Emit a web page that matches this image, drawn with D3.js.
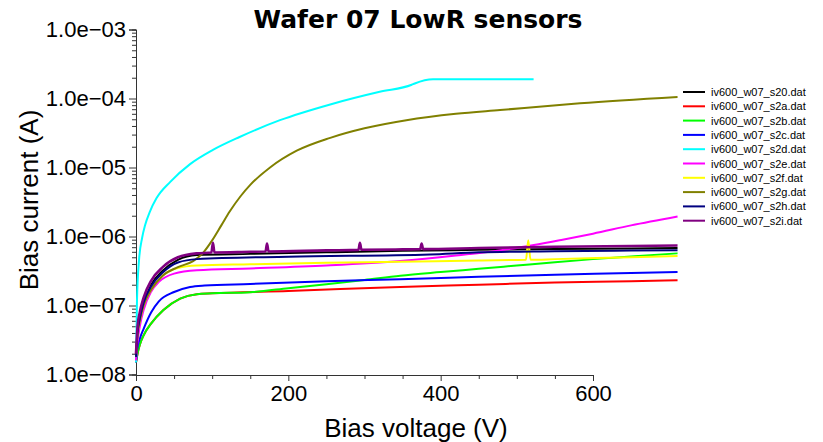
<!DOCTYPE html>
<html>
<head>
<meta charset="utf-8">
<script src="https://cdn.jsdelivr.net/npm/d3@7"></script>
<style>
  body { margin: 0; background: #fff; }
  svg { display: block; }
  .tick text { font-family: "Liberation Sans", Arial, sans-serif; }
</style>
</head>
<body>
<div id="chart"></div>
<script>
// IV scans, wafer 07 LowR sensors (voltage in V, current in A)
var files = ["iv600_w07_s20.dat", "iv600_w07_s2a.dat", "iv600_w07_s2b.dat", "iv600_w07_s2c.dat",
  "iv600_w07_s2d.dat", "iv600_w07_s2e.dat", "iv600_w07_s2f.dat", "iv600_w07_s2g.dat",
  "iv600_w07_s2h.dat", "iv600_w07_s2i.dat"];
var colors = ["#000000", "#ff0000", "#00ff00", "#0000ff", "#00ffff", "#ff00ff", "#ffff00",
  "#808000", "#000080", "#800080"];

var v_s20 = [0, 2, 5, 10, 20, 35, 55, 80, 150, 250, 350, 450, 550, 650, 711];
var i_s20 = [2.0e-8, 4.2e-8, 6.0e-8, 1.05e-7, 2.0e-7, 3.2e-7, 4.6e-7, 5.4e-7, 5.6e-7, 5.9e-7, 6.2e-7, 6.4e-7, 6.6e-7, 6.7e-7, 6.8e-7];

var v_s2a = [0, 2, 5, 10, 20, 36, 58, 80, 100, 200, 347, 450, 550, 650, 711];
var i_s2a = [1.5e-8, 2.0e-8, 2.7e-8, 3.7e-8, 5.5e-8, 8.6e-8, 1.26e-7, 1.46e-7, 1.5e-7, 1.62e-7, 1.86e-7, 2.0e-7, 2.15e-7, 2.25e-7, 2.33e-7];

var v_s2b = [0, 2, 5, 10, 20, 36, 58, 80, 100, 150, 200, 250, 300, 347, 400, 450, 500, 550, 600, 650, 711];
var i_s2b = [1.5e-8, 2.0e-8, 2.7e-8, 3.7e-8, 5.5e-8, 8.6e-8, 1.26e-7, 1.46e-7, 1.5e-7, 1.56e-7, 1.78e-7, 2.04e-7, 2.35e-7, 2.7e-7, 3.05e-7, 3.4e-7, 3.8e-7, 4.25e-7, 4.7e-7, 5.15e-7, 5.7e-7];

var v_s2c = [0, 2, 5, 10, 20, 30, 50, 71, 90, 150, 250, 347, 450, 550, 650, 711];
var i_s2c = [1.5e-8, 2.5e-8, 3.3e-8, 4.6e-8, 8.0e-8, 1.15e-7, 1.57e-7, 1.86e-7, 1.95e-7, 2.05e-7, 2.25e-7, 2.4e-7, 2.6e-7, 2.8e-7, 2.95e-7, 3.07e-7];

var v_s2d = [0, 1.3, 4, 8, 12, 18, 27, 45, 71, 101, 136, 189, 255, 320, 362, 366, 390, 450, 522];
var i_s2d = [1.5e-8, 1.2e-7, 4.6e-7, 9.5e-7, 1.47e-6, 2.26e-6, 3.6e-6, 6.2e-6, 1.12e-5, 1.8e-5, 2.77e-5, 4.85e-5, 8.2e-5, 1.25e-4, 1.58e-4, 1.65e-4, 1.9e-4, 1.9e-4, 1.9e-4];

var v_s2e = [0, 2, 5, 10, 20, 30, 50, 80, 150, 250, 347, 420, 495, 560, 600, 650, 711];
var i_s2e = [1.6e-8, 3.0e-8, 5.0e-8, 8.6e-8, 1.6e-7, 2.2e-7, 2.9e-7, 3.25e-7, 3.45e-7, 3.8e-7, 4.4e-7, 5.3e-7, 6.7e-7, 9.0e-7, 1.1e-6, 1.45e-6, 1.95e-6];

var v_s2f = [0, 2, 5, 10, 20, 35, 55, 80, 150, 250, 347, 450, 512, 515, 518, 550, 650, 711];
var i_s2f = [1.8e-8, 3.8e-8, 6.0e-8, 1.0e-7, 1.7e-7, 2.7e-7, 3.5e-7, 3.8e-7, 3.95e-7, 4.15e-7, 4.3e-7, 4.5e-7, 4.6e-7, 8.8e-7, 4.6e-7, 4.7e-7, 5.0e-7, 5.2e-7];

var v_s2g = [0, 2, 5, 10, 20, 35, 55, 75, 88, 100, 112, 123, 137, 150, 176, 211, 255, 300, 355, 420, 478, 583, 711];
var i_s2g = [1.8e-8, 3.8e-8, 6.0e-8, 1.0e-7, 1.7e-7, 2.7e-7, 3.6e-7, 4.4e-7, 5.8e-7, 8.8e-7, 1.45e-6, 2.3e-6, 3.8e-6, 5.6e-6, 1.0e-5, 1.75e-5, 2.69e-5, 3.7e-5, 4.85e-5, 6.0e-5, 6.8e-5, 8.5e-5, 1.05e-4];

var v_s2h = [0, 2, 5, 10, 20, 35, 55, 80, 200, 386, 450, 550, 650, 711];
var i_s2h = [1.8e-8, 4.0e-8, 6.5e-8, 1.1e-7, 1.9e-7, 3.0e-7, 4.2e-7, 4.7e-7, 5.1e-7, 5.5e-7, 5.9e-7, 6.1e-7, 6.25e-7, 6.3e-7];

var v_s2i = [0, 2, 5, 10, 20, 35, 55, 80, 99, 101, 103, 150, 170, 172, 174, 250, 292, 294, 296, 350, 373, 375, 377, 450, 550, 650, 711];
var i_s2i = [2.0e-8, 5.0e-8, 8.0e-8, 1.3e-7, 2.3e-7, 3.6e-7, 5.0e-7, 5.7e-7, 5.85e-7, 8.1e-7, 5.87e-7, 6.0e-7, 6.05e-7, 7.9e-7, 6.06e-7, 6.3e-7, 6.4e-7, 8.1e-7, 6.42e-7, 6.5e-7, 6.55e-7, 7.9e-7, 6.57e-7, 6.8e-7, 7.1e-7, 7.3e-7, 7.4e-7];

var voltages = [v_s20, v_s2a, v_s2b, v_s2c, v_s2d, v_s2e, v_s2f, v_s2g, v_s2h, v_s2i];
var currents = [i_s20, i_s2a, i_s2b, i_s2c, i_s2d, i_s2e, i_s2f, i_s2g, i_s2h, i_s2i];

var xMajor = [0, 200, 400, 600];
var xMinor = [50, 100, 150, 250, 300, 350, 450, 500, 550];
var yMajor = [1e-8, 1e-7, 1e-6, 1e-5, 1e-4, 1e-3];

var width = 823, height = 442;
var svg = d3.select("#chart").append("svg")
  .attr("width", width)
  .attr("height", height);

var x = d3.scaleLinear().domain([0, 600]).range([136, 593]);
var y = d3.scaleLog().domain([1e-8, 1e-3]).range([374.5, 29.5]);

var yMinor = [];
yMajor.slice(0, -1).forEach(function(d) {
  for (var k = 2; k <= 9; k++) yMinor.push(d * k);
});

var fmt = function(d) {
  var e = Math.round(Math.log10(d));
  return "1.0e\u2212" + (Math.abs(e) < 10 ? "0" : "") + Math.abs(e);
};

// axes
var gx = svg.append("g").attr("transform", "translate(0,375)");
gx.call(d3.axisBottom(x).tickValues(xMajor).tickSize(6).tickPadding(4).tickFormat(d3.format("d")));
gx.append("g").call(d3.axisBottom(x).tickValues(xMinor).tickSize(4).tickFormat(""));
gx.selectAll(".domain").attr("stroke", "#333");
gx.selectAll("line").attr("stroke", "#333");
gx.selectAll("text").attr("font-size", 22).attr("fill", "#000");

var gy = svg.append("g").attr("transform", "translate(136,0)");
gy.call(d3.axisLeft(y).tickValues(yMajor).tickSize(7).tickPadding(3).tickFormat(fmt));
gy.append("g").call(d3.axisLeft(y).tickValues(yMinor).tickSize(4).tickFormat(""));
gy.selectAll(".domain").attr("stroke", "#333");
gy.selectAll("line").attr("stroke", "#333");
gy.selectAll("text").attr("font-size", 22).attr("fill", "#000");

// curves
var line = d3.line()
  .x(function(d) { return x(d[0]); })
  .y(function(d) { return y(d[1]); })
  .curve(d3.curveMonotoneX);

files.forEach(function(f, i) {
  var pts = d3.zip(voltages[i], currents[i]);
  svg.append("path")
    .datum(pts)
    .attr("d", line)
    .attr("fill", "none")
    .attr("stroke", colors[i])
    .attr("stroke-width", i === 9 ? 2.6 : 2)
    .attr("stroke-linejoin", "round");
});

// titles
svg.append("text")
  .attr("x", 418).attr("y", 28)
  .attr("text-anchor", "middle")
  .style("font-family", "'DejaVu Sans', Verdana, sans-serif")
  .style("font-weight", "bold")
  .style("font-size", "25px")
  .text("Wafer 07 LowR sensors");

svg.append("text")
  .attr("x", 416).attr("y", 437)
  .attr("text-anchor", "middle")
  .style("font-family", "'Liberation Sans', Arial, sans-serif")
  .style("font-size", "26px")
  .text("Bias voltage (V)");

svg.append("text")
  .attr("transform", "translate(38,200) rotate(-90)")
  .attr("text-anchor", "middle")
  .style("font-family", "'Liberation Sans', Arial, sans-serif")
  .style("font-size", "26px")
  .text("Bias current (A)");

// legend
var legend = svg.append("g").attr("transform", "translate(683,92)");
files.forEach(function(f, i) {
  var row = legend.append("g").attr("transform", "translate(0," + (i * 14.3) + ")");
  row.append("line")
    .attr("x1", 0).attr("x2", 22)
    .attr("stroke", colors[i]).attr("stroke-width", 2);
  row.append("text")
    .attr("x", 28).attr("y", 4)
    .style("font-family", "'Liberation Sans', Arial, sans-serif")
    .style("font-size", "11px")
    .text(f);
});
</script>
</body>
</html>
